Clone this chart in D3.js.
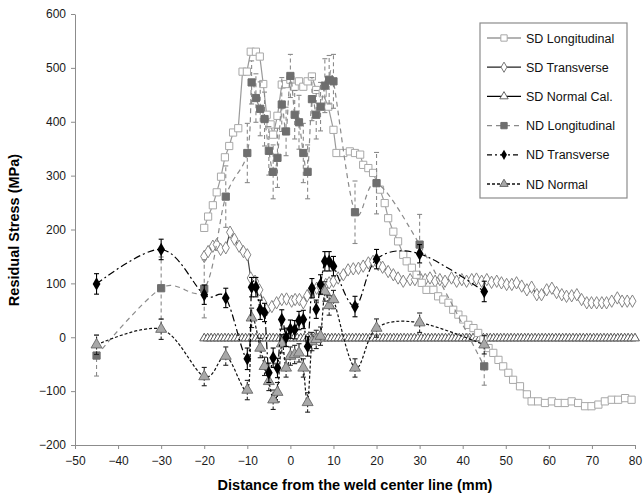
<!DOCTYPE html>
<html>
<head>
<meta charset="utf-8">
<script src="https://cdn.jsdelivr.net/npm/d3@7"></script>
<style>
  body { margin: 0; background: #fff; }
  text { font-family: "Liberation Sans", Arial, sans-serif; }
</style>
</head>
<body>
<svg width="644" height="499"></svg>
<script>
// SD Longitudinal
const sdLongX = [-20, -19.1, -18, -17.1, -16.1, -15.2, -14.2, -13.3, -12.1, -11.1, -10.1, -9.2, -8, -7.1, -6.3, -5.5, -4.6, -4, -3, -2, -1, 0, 1, 2, 3, 4, 5, 6, 7.5, 8.8, 10, 10.7, 12.3, 13.8, 15, 16.2, 16.9, 18.1, 19.2, 20.8, 21.9, 22.7, 23.9, 25, 26.2, 27, 28.2, 29.3, 30.5, 31.6, 33.2, 34.3, 35.5, 36.7, 37.8, 39, 40.1, 41.3, 42.5, 43.6, 44.8, 46, 47.1, 48.3, 49.4, 50.6, 51.7, 53.3, 54.9, 56, 57.5, 59.1, 60.7, 62.2, 63.7, 65.3, 66.8, 68.4, 69.9, 71.5, 73, 74.6, 76.1, 77.7, 79.2];
const sdLongY = [203, 224, 245, 269, 298, 334, 355, 380, 388, 493, 493, 530, 530, 521, 470, 413, 395, 376, 411, 469, 470, 478, 465, 475, 465, 475, 484, 459, 453, 428, 385, 342, 342, 345, 342, 339, 320, 314, 305, 274, 249, 221, 196, 178, 153, 141, 129, 116, 101, 88, 88, 76, 70, 64, 51, 42, 33, 23, 17, 8, -4, -20, -29, -42, -54, -66, -79, -91, -106, -119, -119, -122, -119, -122, -122, -119, -122, -128, -128, -125, -119, -116, -116, -113, -116];

// SD Transverse
const sdTransX = [-20, -19.1, -18, -17.1, -16.2, -15, -14, -13, -11.9, -10.9, -10, -9.2, -8.2, -7.2, -6.3, -5.5, -4.3, -3.2, -2, -0.9, 0.3, 1.1, 2.1, 3, 3.9, 4.9, 6.1, 7, 8.2, 9, 10, 11.1, 12.3, 13.4, 14.6, 15.8, 16.9, 18.1, 19.2, 20.4, 21.4, 22.7, 23.9, 25, 26.2, 27.8, 28.9, 30.1, 31.3, 32.4, 33.6, 34.7, 35.9, 37.4, 38.6, 39.8, 40.9, 42.1, 43.2, 44.4, 45.6, 46.7, 47.9, 49, 50.2, 51.4, 52.5, 53.7, 54.9, 56, 57.2, 58.3, 59.5, 60.7, 61.8, 63, 64.1, 65.3, 66.5, 67.6, 68.8, 69.9, 71.1, 72.3, 73.4, 74.6, 75.9, 77, 78.2, 79.4];
const sdTransY = [150, 159, 169, 172, 163, 166, 195, 182, 169, 159, 153, 110, 104, 88, 64, 51, 57, 64, 70, 71, 67, 70, 70, 64, 77, 88, 91, 93, 98, 101, 104, 110, 116, 125, 127, 128, 132, 138, 141, 135, 130, 122, 116, 110, 104, 107, 107, 110, 107, 110, 104, 107, 104, 110, 104, 107, 104, 107, 108, 104, 107, 102, 104, 101, 98, 98, 101, 95, 88, 93, 79, 79, 88, 91, 83, 79, 76, 77, 79, 70, 64, 64, 64, 64, 64, 67, 73, 67, 67, 67];

// SD Normal Cal.
const sdNormX = [-20, -19.2, -18.4, -17.6, -16.8, -16, -15.2, -14.4, -13.6, -12.8, -12, -11.2, -10.4, -9.6, -8.8, -8, -7.2, -6.4, -5.6, -4.8, -4, -3.2, -2.4, -1.6, -0.8, 0, 0.8, 1.6, 2.4, 3.2, 4, 4.8, 5.6, 6.4, 7.2, 8, 8.8, 9.6, 10.4, 11.2, 12, 12.8, 13.6, 14.4, 15.2, 16, 16.8, 17.6, 18.4, 19.2, 20, 20.8, 21.6, 22.4, 23.2, 24, 24.8, 25.6, 26.4, 27.2, 28, 28.8, 29.6, 30.4, 31.2, 32, 32.8, 33.6, 34.4, 35.2, 36, 36.8, 37.6, 38.4, 39.2, 40, 40.8, 41.6, 42.4, 43.2, 44, 44.8, 45.6, 46.4, 47.2, 48, 48.8, 49.6, 50.4, 51.2, 52, 52.8, 53.6, 54.4, 55.2, 56, 56.8, 57.6, 58.4, 59.2, 60, 60.8, 61.6, 62.4, 63.2, 64, 64.8, 65.6, 66.4, 67.2, 68, 68.8, 69.6, 70.4, 71.2, 72, 72.8, 73.6, 74.4, 75.2, 76, 76.8, 77.6, 78.4, 79.2, 80];
const sdNormValue = -2;

// ND Longitudinal
const ndLongX = [-45, -30, -20, -15, -10, -9, -8, -7, -6, -5, -4, -3, -2, -1, 0, 1, 2, 3, 4, 5, 6, 7, 8, 9, 10, 15, 20, 30, 45];
const ndLongY = [-34, 91, 90, 261, 342, 473, 444, 424, 405, 346, 307, 333, 432, 382, 485, 413, 399, 342, 307, 442, 413, 428, 467, 478, 475, 232, 286, 172, -54];
const ndLongErr = [38, 58, 54, 57, 55, 40, 45, 50, 50, 45, 50, 55, 50, 45, 40, 45, 50, 55, 50, 40, 45, 45, 50, 45, 50, 58, 57, 56, 35];

// ND Transverse
const ndTransX = [-45, -30, -20, -15, -10, -9, -8, -7, -6, -5, -4, -3, -2, -1, 0, 1, 2, 3, 4, 5, 6, 7, 8, 9, 10, 15, 20, 30, 45];
const ndTransY = [99, 163, 79, 73, -40, 93, 93, 51, 46, -66, -38, -57, 33, 0, 15, 14, 31, 33, -17, 91, 52, 98, 141, 141, 132, 57, 145, 155, 85];
const ndTransErr = [19, 19, 18, 18, 20, 18, 18, 18, 17, 18, 18, 18, 18, 17, 17, 17, 17, 17, 18, 18, 17, 18, 18, 18, 18, 19, 18, 17, 19];

// ND Normal
const ndNormX = [-45, -30, -20, -15, -10, -9, -7, -6, -5, -4, -3, -2, -1, 0, 1, 2, 3, 4, 5, 6, 7, 8, 9, 10, 15, 20, 30, 45];
const ndNormY = [-14, 15, -73, -35, -98, 36, -20, -54, -82, -116, -102, -12, -57, -35, -32, -29, -57, -121, -8, -4, 2, 85, 59, 70, -57, 17, 27, -14];
const ndNormErr = [18, 19, 17, 17, 18, 18, 18, 17, 17, 18, 18, 17, 17, 17, 17, 17, 17, 18, 17, 17, 17, 18, 18, 17, 17, 17, 18, 17];

const xTicks = d3.range(-50, 81, 10);
const yTicks = d3.range(-200, 601, 100);

let svg = d3.select("svg");
let x = d3.scaleLinear().domain([-50, 80]).range([75, 635]);
let y = d3.scaleLinear().domain([-200, 600]).range([445, 14]);

let zip = (xs, ys, es) => xs.map((v, i) => ({ x: v, y: ys[i], e: es ? es[i] : 0 }));

// axes
let xAxis = svg.append("g")
  .attr("transform", `translate(0,${y(-200)})`)
  .call(d3.axisBottom(x).tickValues(xTicks).tickSize(4).tickSizeOuter(0).tickPadding(7));
let yAxis = svg.append("g")
  .attr("transform", `translate(${x(-50)},0)`)
  .call(d3.axisLeft(y).tickValues(yTicks).tickSize(4).tickSizeOuter(0).tickPadding(5));
for (let ax of [xAxis, yAxis]) {
  ax.select(".domain").attr("stroke", "#8c8c8c");
  ax.selectAll(".tick line").attr("stroke", "#8c8c8c");
  ax.selectAll(".tick text").attr("fill", "#1a1a1a").style("font-size", "12px")
    .style("font-family", "'Liberation Sans', Arial, sans-serif");
}

svg.append("text")
  .attr("x", 355).attr("y", 490)
  .attr("text-anchor", "middle")
  .style("font-size", "14.5px").style("font-weight", "bold")
  .text("Distance from the weld center line (mm)");
svg.append("text")
  .attr("transform", "translate(19,230) rotate(-90)")
  .attr("text-anchor", "middle")
  .style("font-size", "14.5px").style("font-weight", "bold")
  .text("Residual Stress (MPa)");

let plot = svg.append("g");
let smooth = d3.line().x(d => x(d.x)).y(d => y(d.y)).curve(d3.curveCatmullRom.alpha(0));
let straight = d3.line().x(d => x(d.x)).y(d => y(d.y));

let sym = (type, size) => d3.symbol().type(type).size(size)();
let square = sym(d3.symbolSquare, 52);
let diamond = sym(d3.symbolDiamond, 44);
let triangle = sym(d3.symbolTriangle, 34);
let diamondBig = sym(d3.symbolDiamond, 52);
let triBig = sym(d3.symbolTriangle, 52);
let squareLeg = sym(d3.symbolSquare, 40);
let diamondLeg = sym(d3.symbolDiamond, 30);
let triLeg = sym(d3.symbolTriangle, 30);

// SD Normal Cal.
let sdNorm = sdNormX.map(v => ({ x: v, y: sdNormValue }));
plot.append("path").datum(sdNorm).attr("d", straight)
  .attr("fill", "none").attr("stroke", "#000").attr("stroke-width", 1.2);
plot.selectAll(".sdn").data(sdNorm).enter().append("path")
  .attr("transform", d => `translate(${x(d.x)},${y(d.y)})`)
  .attr("d", triangle).attr("fill", "#fff").attr("stroke", "#555").attr("stroke-width", 1);

// SD Transverse
let sdTrans = zip(sdTransX, sdTransY);
plot.append("path").datum(sdTrans).attr("d", straight)
  .attr("fill", "none").attr("stroke", "#444").attr("stroke-width", 1.2);
plot.selectAll(".sdt").data(sdTrans).enter().append("path")
  .attr("transform", d => `translate(${x(d.x)},${y(d.y)})`)
  .attr("d", diamond).attr("fill", "#fff").attr("stroke", "#777").attr("stroke-width", 0.9);

// SD Longitudinal
let sdLong = zip(sdLongX, sdLongY);
plot.append("path").datum(sdLong).attr("d", straight)
  .attr("fill", "none").attr("stroke", "#9a9a9a").attr("stroke-width", 1.2);
plot.selectAll(".sdl").data(sdLong).enter().append("path")
  .attr("transform", d => `translate(${x(d.x)},${y(d.y)})`)
  .attr("d", square).attr("fill", "#fff").attr("stroke", "#a8a8a8").attr("stroke-width", 1);

let errBars = (data, color, dash) => {
  let g = plot.append("g").attr("stroke", color).attr("stroke-width", 1.1);
  data.forEach(d => {
    g.append("line").attr("x1", x(d.x)).attr("x2", x(d.x))
      .attr("y1", y(d.y - d.e)).attr("y2", y(d.y + d.e))
      .attr("stroke-dasharray", dash);
    for (let v of [d.y - d.e, d.y + d.e]) {
      g.append("line").attr("x1", x(d.x) - 2.5).attr("x2", x(d.x) + 2.5)
        .attr("y1", y(v)).attr("y2", y(v));
    }
  });
};

// ND Longitudinal
let ndLong = zip(ndLongX, ndLongY, ndLongErr);
errBars(ndLong, "#8a8a8a", "4,3");
plot.append("path").datum(ndLong).attr("d", smooth)
  .attr("fill", "none").attr("stroke", "#8a8a8a").attr("stroke-width", 1.2).attr("stroke-dasharray", "5,4");
plot.selectAll(".ndl").data(ndLong).enter().append("path")
  .attr("transform", d => `translate(${x(d.x)},${y(d.y)})`)
  .attr("d", square).attr("fill", "#6e6e6e").attr("stroke", "#6e6e6e");

// ND Normal
let ndNorm = zip(ndNormX, ndNormY, ndNormErr);
errBars(ndNorm, "#222", "3,2");
plot.append("path").datum(ndNorm).attr("d", smooth)
  .attr("fill", "none").attr("stroke", "#111").attr("stroke-width", 1.2).attr("stroke-dasharray", "3,2");
plot.selectAll(".ndn").data(ndNorm).enter().append("path")
  .attr("transform", d => `translate(${x(d.x)},${y(d.y)})`)
  .attr("d", triBig).attr("fill", "#a8a8a8").attr("stroke", "#666").attr("stroke-width", 0.9);

// ND Transverse
let ndTrans = zip(ndTransX, ndTransY, ndTransErr);
errBars(ndTrans, "#000", null);
plot.append("path").datum(ndTrans).attr("d", smooth)
  .attr("fill", "none").attr("stroke", "#000").attr("stroke-width", 1.2).attr("stroke-dasharray", "7,3,2,3");
plot.selectAll(".ndt").data(ndTrans).enter().append("path")
  .attr("transform", d => `translate(${x(d.x)},${y(d.y)})`)
  .attr("d", diamondBig).attr("fill", "#000");

// legend
const legendNames = ["SD Longitudinal", "SD Transverse", "SD Normal Cal.", "ND Longitudinal", "ND Transverse", "ND Normal"];
const legendStyles = [
  { line: "#9a9a9a", dash: null, mark: squareLeg, fill: "#fff", stroke: "#a8a8a8" },
  { line: "#222", dash: null, mark: diamondLeg, fill: "#fff", stroke: "#777" },
  { line: "#000", dash: null, mark: triLeg, fill: "#fff", stroke: "#666" },
  { line: "#8a8a8a", dash: "5,4", mark: squareLeg, fill: "#6e6e6e", stroke: "#6e6e6e" },
  { line: "#000", dash: "5,3,2,3", mark: diamondLeg, fill: "#000", stroke: "none" },
  { line: "#111", dash: "3,2", mark: triLeg, fill: "#a8a8a8", stroke: "#666" }
];
let legend = svg.append("g");
legend.append("rect").attr("x", 480).attr("y", 23).attr("width", 147).attr("height", 175)
  .attr("fill", "#fff").attr("stroke", "#8c8c8c").attr("stroke-width", 1.2);
legendNames.forEach((name, i) => {
  let st = legendStyles[i];
  let ly = 38 + i * 29.2;
  let g = legend.append("g").attr("transform", `translate(0,${ly})`);
  g.append("line").attr("x1", 487).attr("x2", 521).attr("y1", 0).attr("y2", 0)
    .attr("stroke", st.line).attr("stroke-width", 1.3).attr("stroke-dasharray", st.dash);
  g.append("path").attr("transform", "translate(504,0)").attr("d", st.mark)
    .attr("fill", st.fill).attr("stroke", st.stroke);
  g.append("text").attr("x", 526).attr("y", 4.5).style("font-size", "12.5px").attr("fill", "#111").text(name);
});
</script>
</body>
</html>
